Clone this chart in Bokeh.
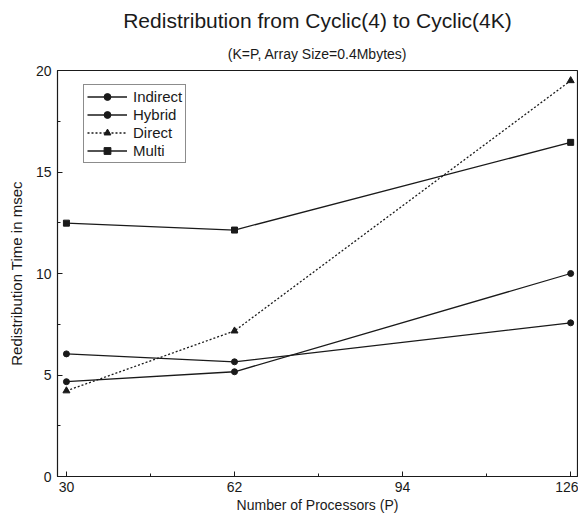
from bokeh.plotting import figure
from bokeh.models import Range1d, FixedTicker, Title, Legend, LegendItem
from bokeh.embed import file_html
from bokeh.resources import INLINE

processors = [30, 62, 126]
indirect = [6.04, 5.65, 7.57]
hybrid = [4.67, 5.16, 10.0]
direct = [4.22, 7.17, 19.5]
multi = [12.48, 12.14, 16.46]
x_ticks = [30, 62, 94, 126]
x_minor = [46, 78, 110]
y_ticks = [0, 5, 10, 15, 20]
y_minor = [2.5, 7.5, 12.5, 17.5]

FONT = "Liberation Sans"
INK = "#1a1a1a"

p = figure(width=578, height=515, output_backend="svg", toolbar_location=None,
           title="Redistribution from Cyclic(4) to Cyclic(4K)",
           x_range=Range1d(28.3, 127.3), y_range=Range1d(0, 20),
           min_border_left=57, min_border_right=1, min_border_bottom=38, min_border_top=70)
p.title.align = "center"
p.title.text_font = FONT
p.title.text_font_size = "21px"
p.title.text_font_style = "normal"
p.title.text_color = INK
p.title.standoff = 6
p.add_layout(Title(text="(K=P, Array Size=0.4Mbytes)", align="center", text_font=FONT,
                   text_font_size="14px", text_font_style="normal", text_color=INK,
                   standoff=18), "above")

p.grid.visible = False
p.outline_line_color = INK
p.outline_line_width = 1.2
p.background_fill_color = "white"
p.border_fill_color = "white"

for ax in (p.xaxis[0], p.yaxis[0]):
    ax.axis_line_color = INK
    ax.major_tick_in = 5
    ax.major_tick_out = 0
    ax.minor_tick_in = 3
    ax.minor_tick_out = 0
    ax.major_tick_line_color = INK
    ax.minor_tick_line_color = INK
    ax.major_label_text_font = FONT
    ax.major_label_text_font_size = "14px"
    ax.major_label_text_color = INK
    ax.axis_label_text_font = FONT
    ax.axis_label_text_font_size = "14px"
    ax.axis_label_text_font_style = "normal"
    ax.axis_label_text_color = INK

p.yaxis[0].axis_label_text_font_size = "15px"
p.xaxis[0].ticker = FixedTicker(ticks=x_ticks, minor_ticks=x_minor)
p.yaxis[0].ticker = FixedTicker(ticks=y_ticks, minor_ticks=y_minor)
p.xaxis[0].axis_label = "Number of Processors (P)"
p.yaxis[0].axis_label = "Redistribution Time in msec"
p.xaxis[0].major_label_standoff = 5
p.xaxis[0].axis_label_standoff = 2
p.yaxis[0].major_label_standoff = 6
p.yaxis[0].axis_label_standoff = 8

items = []
series = [("Indirect", indirect, "circle", None), ("Hybrid", hybrid, "circle", None),
          ("Direct", direct, "triangle", "2 2"), ("Multi", multi, "square", None)]
for name, ys, marker, dash in series:
    kw = {}
    if dash:
        kw["line_dash"] = dash
    l = p.line(processors, ys, line_color=INK, line_width=1.3, **kw)
    s = p.scatter(processors, ys, marker=marker, size=6 if marker != "triangle" else 7,
                  fill_color=INK, line_color=INK)
    items.append(LegendItem(label=name, renderers=[l, s]))

legend = Legend(items=items, location=(26, 313), border_line_color=INK, border_line_width=1,
                label_text_font=FONT, label_text_font_size="15px", label_text_color=INK,
                glyph_width=40, glyph_height=17, label_height=17, spacing=1, padding=3,
                margin=0, label_standoff=6, background_fill_alpha=1)
p.add_layout(legend, "center")

open("out.html", "w").write(file_html(p, INLINE))
